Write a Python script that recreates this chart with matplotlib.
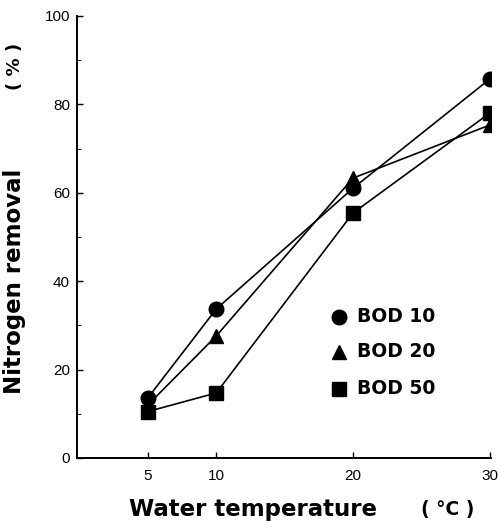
import matplotlib
matplotlib.use("Agg")
import matplotlib.pyplot as plt

plt.rcParams['font.family'] = ['Liberation Sans', 'DejaVu Sans']

temps = [5, 10, 20, 30]
bod10 = [13.6, 33.7, 61.0, 85.7]
bod20 = [12.0, 27.6, 63.3, 75.3]
bod50 = [10.5, 14.7, 55.4, 78.0]

series = [
    ("BOD 10", bod10, "o", 10.5),
    ("BOD 20", bod20, "^", 10.5),
    ("BOD 50", bod50, "s", 9.5),
]
legend_y = [31.9, 24.0, 15.6]

bold = dict(family="DejaVu Sans", fontweight="bold")

fig = plt.figure(figsize=(4.99, 5.30), dpi=100)
ax = fig.add_axes([0.154, 0.136, 0.830, 0.834])

for (name, vals, mk, ms), ly in zip(series, legend_y):
    ax.plot(temps, vals, color="black", linewidth=1.2, marker=mk,
            markersize=ms, markerfacecolor="black", markeredgecolor="black")
    # hand-placed legend, like the original figure
    ax.plot([19.0], [ly], marker=mk, markersize=ms, color="black")
    ax.text(20.3, ly, name, fontsize=13.5, va="center", ha="left", **bold)

ax.set_xlim(-0.2, 30.1)
ax.set_ylim(0, 100)
ax.set_xticks([5, 10, 20, 30])
ax.set_yticks([0, 20, 40, 60, 80, 100])
ax.set_yticks([10, 30, 50, 70, 90], minor=True)
ax.tick_params(direction="in", length=4, width=1, labelsize=11, pad=5)
ax.tick_params(axis="x", pad=8)
ax.tick_params(which="minor", direction="in", length=3)
ax.spines["top"].set_visible(False)
ax.spines["right"].set_visible(False)
for s in ("left", "bottom"):
    ax.spines[s].set_linewidth(1.4)

fig.text(0.03, 0.47, "Nitrogen removal", rotation=90, fontsize=16.5,
         ha="center", va="center", **bold)
fig.text(0.03, 0.874, "( % )", rotation=90, fontsize=13,
         ha="center", va="center", **bold)
fig.text(0.507, 0.038, "Water temperature", fontsize=16.5,
         ha="center", va="center", **bold)
fig.text(0.898, 0.038, "( °C )", fontsize=13.5,
         ha="center", va="center", **bold)

fig.savefig("out.png", dpi=100)
